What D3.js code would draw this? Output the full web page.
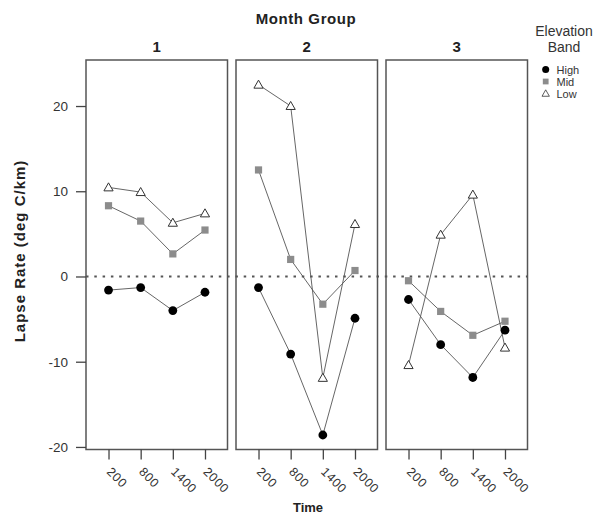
<!DOCTYPE html>
<html>
<head>
<meta charset="utf-8">
<script src="https://cdn.jsdelivr.net/npm/d3@7"></script>
<style>
  body { margin: 0; background: #fff; }
  svg { font-family: "Liberation Sans", Arial, sans-serif; }
</style>
</head>
<body>
<svg id="chart" width="596" height="517"></svg>
<script>
const groups = ["1", "2", "3"];
const times = ["200", "800", "1400", "2000"];
const bands = ["High", "Mid", "Low"];
const yTicks = [-20, -10, 0, 10, 20];

// lapse rates per month group, per band, in time order
const high = [
  [-1.6, -1.3, -4.0, -1.85],
  [-1.3, -9.1, -18.6, -4.9],
  [-2.7, -8.0, -11.85, -6.3]
];
const mid = [
  [8.3, 6.5, 2.65, 5.45],
  [12.5, 2.0, -3.25, 0.7],
  [-0.5, -4.1, -6.9, -5.25]
];
const low = [
  [10.45, 9.9, 6.3, 7.4],
  [22.5, 20.0, -11.9, 6.15],
  [-10.4, 4.9, 9.6, -8.35]
];

const svg = d3.select("#chart");
const plotTop = 60, plotBottom = 449.5;
const panelW = 141.5, panelGap = 8.5, left0 = 86;

const y = d3.scaleLinear().domain([-20.3, 25.4]).range([plotBottom, plotTop]);

const seriesByBand = { High: high, Mid: mid, Low: low };
const stroke = "#555";

function drawSymbol(g, band, cx, cy) {
  if (band === "High") {
    g.append("circle").attr("cx", cx).attr("cy", cy).attr("r", 4.4).attr("fill", "#000");
  } else if (band === "Mid") {
    g.append("rect").attr("x", cx - 3.6).attr("y", cy - 3.6)
      .attr("width", 7.2).attr("height", 7.2).attr("fill", "#8c8c8c");
  } else {
    const s = 4.6;
    g.append("path")
      .attr("d", `M${cx},${cy - s} L${cx + s},${cy + s * 0.75} L${cx - s},${cy + s * 0.75}Z`)
      .attr("fill", "#fff").attr("stroke", "#333").attr("stroke-width", 1);
  }
}

// zero reference line across all panels
svg.append("line")
  .attr("x1", left0).attr("x2", left0 + 3 * panelW + 2 * panelGap)
  .attr("y1", y(0)).attr("y2", y(0))
  .attr("stroke", "#555").attr("stroke-width", 2.2)
  .attr("stroke-dasharray", "2.5,5.8");

groups.forEach((grp, gi) => {
  const x0 = left0 + gi * (panelW + panelGap);
  const x = d3.scalePoint().domain(times).range([x0, x0 + panelW]).padding(0.7);
  const g = svg.append("g");

  // lines then markers
  bands.forEach(band => {
    const vals = seriesByBand[band][gi];
    const line = d3.line().x((d, i) => x(times[i])).y(d => y(d));
    g.append("path").datum(vals).attr("d", line)
      .attr("fill", "none").attr("stroke", stroke).attr("stroke-width", 0.9);
  });
  bands.forEach(band => {
    seriesByBand[band][gi].forEach((v, i) => drawSymbol(g, band, x(times[i]), y(v)));
  });

  // panel border
  g.append("rect").attr("x", x0).attr("y", plotTop)
    .attr("width", panelW).attr("height", plotBottom - plotTop)
    .attr("fill", "none").attr("stroke", "#555").attr("stroke-width", 1.5);

  // x axis
  const xa = svg.append("g").attr("transform", `translate(0,${plotBottom})`)
    .call(d3.axisBottom(x).tickSize(10).tickSizeOuter(0));
  xa.select(".domain").remove();
  xa.selectAll(".tick line").attr("stroke", "#444").attr("stroke-width", 1.3);
  xa.selectAll(".tick text")
    .attr("fill", "#333").style("font-size", "12.5px").style("letter-spacing", "0.6px")
    .attr("text-anchor", "start").attr("dy", 0)
    .attr("transform", "translate(-3,23) rotate(45)").attr("y", 0).attr("x", 0);

  // strip label
  svg.append("text").attr("x", x0 + panelW / 2).attr("y", 52)
    .attr("text-anchor", "middle").style("font-size", "15px").style("font-weight", "bold")
    .attr("fill", "#222").text(grp);
});

// y axis
const ya = svg.append("g").attr("transform", `translate(${left0},0)`)
  .call(d3.axisLeft(y).tickValues(yTicks).tickFormat(d => String(d)).tickSize(10).tickSizeOuter(0));
ya.select(".domain").remove();
ya.selectAll(".tick line").attr("stroke", "#444").attr("stroke-width", 1.3);
ya.selectAll(".tick text").attr("fill", "#333").style("font-size", "13.5px").attr("x", -18);

// titles
svg.append("text").attr("x", 306).attr("y", 24).attr("text-anchor", "middle")
  .style("font-size", "15px").style("font-weight", "bold").style("letter-spacing", "0.6px")
  .attr("fill", "#222").text("Month Group");
svg.append("text").attr("x", 308).attr("y", 512).attr("text-anchor", "middle")
  .style("font-size", "13px").style("font-weight", "bold").attr("fill", "#222").text("Time");
svg.append("text").attr("transform", `translate(25,251) rotate(-90)`)
  .attr("text-anchor", "middle").style("font-size", "15px").style("font-weight", "bold")
  .style("letter-spacing", "1px")
  .attr("fill", "#222").text("Lapse Rate (deg C/km)");

// legend
const lg = svg.append("g");
lg.append("text").attr("x", 564).attr("y", 36).attr("text-anchor", "middle")
  .style("font-size", "14px").attr("fill", "#333").text("Elevation");
lg.append("text").attr("x", 564).attr("y", 52).attr("text-anchor", "middle")
  .style("font-size", "14px").attr("fill", "#333").text("Band");
bands.forEach((band, i) => {
  const cy = 69.5 + i * 12;
  const sg = lg.append("g").attr("transform", `translate(545.7,${cy}) scale(0.8)`);
  drawSymbol(sg, band, 0, 0);
  lg.append("text").attr("x", 556.5).attr("y", cy + 4)
    .style("font-size", "11px").attr("fill", "#333").text(band);
});
</script>
</body>
</html>
